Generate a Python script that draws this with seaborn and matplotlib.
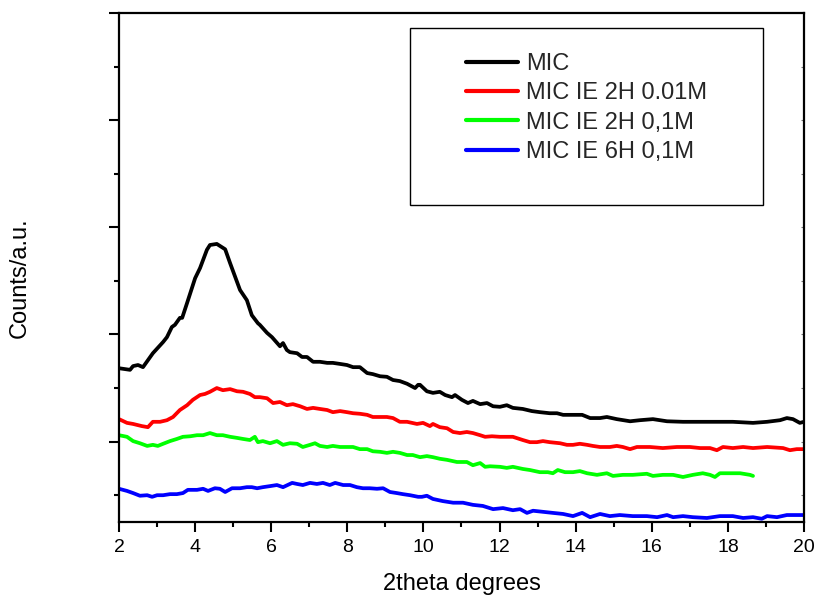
import numpy as np
import pandas as pd
import matplotlib
matplotlib.use("Agg")
import matplotlib.pyplot as plt
from matplotlib.patches import Rectangle
from matplotlib.ticker import MultipleLocator, FixedLocator
import seaborn as sns

# XRD patterns (2theta in degrees, intensity in counts, curves stacked)
mic_x = [2.00, 2.29, 2.37, 2.50, 2.63, 2.76, 2.89, 3.16, 3.26, 3.39, 3.47, 3.60, 3.66, 3.79,
         4.00, 4.13, 4.31, 4.39, 4.57, 4.79, 4.92, 5.18, 5.36, 5.49, 5.65, 5.70, 5.89, 6.02,
         6.23, 6.31, 6.41, 6.49, 6.68, 6.81, 6.94, 7.10, 7.28, 7.47, 7.62, 7.81, 7.99, 8.15,
         8.33, 8.52, 8.67, 8.86, 9.04, 9.20, 9.38, 9.57, 9.78, 9.86, 9.91, 10.09, 10.25, 10.43,
         10.57, 10.75, 10.83, 11.01, 11.17, 11.30, 11.49, 11.67, 11.83, 12.01, 12.19, 12.35,
         12.61, 12.85, 13.06, 13.32, 13.51, 13.67, 13.93, 14.17, 14.38, 14.64, 14.82, 15.08,
         15.43, 15.69, 16.03, 16.40, 16.82, 17.27, 17.71, 18.13, 18.66, 19.03, 19.37, 19.55,
         19.71, 19.89, 20.00]
mic_y = [2870, 2840, 2910, 2930, 2890, 3020, 3150, 3360, 3450, 3640, 3680, 3810, 3810, 4090,
         4550, 4740, 5080, 5170, 5190, 5090, 4830, 4330, 4140, 3860, 3710, 3680, 3530, 3450,
         3280, 3340, 3210, 3170, 3150, 3080, 3080, 2990, 2990, 2970, 2970, 2950, 2930, 2890,
         2890, 2780, 2760, 2720, 2710, 2650, 2630, 2580, 2500, 2560, 2560, 2440, 2410, 2430,
         2370, 2330, 2370, 2280, 2220, 2260, 2200, 2220, 2160, 2150, 2180, 2130,
         2110, 2070, 2050, 2030, 2030, 2000, 2000, 2000, 1940, 1940, 1960, 1920,
         1880, 1900, 1920, 1880, 1870, 1870, 1870, 1870, 1850, 1870, 1900, 1940,
         1920, 1850, 1870]

ie2h_001_x = [2.00, 2.21, 2.37, 2.60, 2.76, 2.89, 3.08, 3.26, 3.42, 3.60, 3.79, 3.94, 4.13,
              4.26, 4.39, 4.57, 4.73, 4.92, 5.10, 5.26, 5.44, 5.57, 5.70, 5.89, 6.05, 6.23,
              6.41, 6.57, 6.76, 6.94, 7.10, 7.28, 7.47, 7.62, 7.81, 7.99, 8.15, 8.33, 8.52,
              8.67, 8.86, 9.04, 9.20, 9.38, 9.57, 9.83, 9.99, 10.17, 10.25, 10.43, 10.62,
              10.78, 10.96, 11.14, 11.30, 11.49, 11.62, 11.80, 12.01, 12.19, 12.35, 12.61,
              12.80, 12.98, 13.14, 13.32, 13.59, 13.77, 13.93, 14.11, 14.30, 14.45, 14.64,
              14.90, 15.08, 15.24, 15.43, 15.61, 15.95, 16.29, 16.66, 17.00, 17.27, 17.53,
              17.71, 17.87, 18.13, 18.40, 18.66, 19.03, 19.45, 19.63, 19.81, 20.00]
ie2h_001_y = [1920, 1850, 1830, 1790, 1770, 1870, 1870, 1900, 1960, 2090, 2180, 2280, 2370,
              2390, 2430, 2500, 2460, 2480, 2440, 2430, 2390, 2330, 2330, 2310, 2220, 2240,
              2180, 2200, 2160, 2110, 2130, 2110, 2090, 2050, 2070, 2050, 2030, 2020, 2000,
              1960, 1960, 1960, 1940, 1870, 1870, 1830, 1850, 1790, 1830, 1770, 1750,
              1680, 1660, 1680, 1660, 1620, 1590, 1600, 1590, 1590, 1590, 1530,
              1490, 1490, 1510, 1490, 1470, 1440, 1440, 1460, 1440, 1420, 1400,
              1400, 1420, 1400, 1360, 1400, 1400, 1380, 1400, 1400, 1380, 1380,
              1340, 1400, 1380, 1400, 1380, 1400, 1380, 1340, 1360, 1360]

ie2h_01_x = [2.00, 2.21, 2.37, 2.55, 2.74, 2.89, 3.02, 3.16, 3.34, 3.52, 3.68, 3.87, 4.05,
             4.21, 4.39, 4.57, 4.73, 4.92, 5.10, 5.26, 5.44, 5.57, 5.65, 5.78, 5.97, 6.15,
             6.31, 6.49, 6.68, 6.83, 7.02, 7.15, 7.28, 7.47, 7.62, 7.81, 7.99, 8.15, 8.33,
             8.52, 8.67, 8.86, 9.04, 9.20, 9.38, 9.57, 9.72, 9.91, 10.09, 10.25, 10.43, 10.62,
             10.88, 11.14, 11.30, 11.49, 11.62, 11.75, 12.01, 12.19, 12.35, 12.61, 12.80,
             13.06, 13.27, 13.40, 13.53, 13.72, 13.93, 14.11, 14.30, 14.56, 14.82, 14.98,
             15.24, 15.50, 15.87, 16.03, 16.29, 16.56, 16.82, 17.08, 17.34, 17.53, 17.66,
             17.79, 18.05, 18.32, 18.58, 18.66]
ie2h_01_y = [1620, 1590, 1510, 1470, 1420, 1440, 1420, 1460, 1510, 1550, 1590, 1600, 1620,
             1620, 1660, 1620, 1620, 1590, 1570, 1550, 1530, 1590, 1490, 1510, 1470, 1510,
             1440, 1470, 1460, 1400, 1440, 1470, 1420, 1400, 1420, 1400, 1400, 1400, 1360,
             1360, 1320, 1310, 1290, 1310, 1290, 1250, 1250, 1210, 1230, 1210, 1180, 1160,
             1120, 1120, 1060, 1100, 1030, 1040, 1030, 1010, 1030, 990, 970,
             930, 930, 910, 970, 930, 930, 950, 910, 880, 910, 860,
             880, 880, 900, 860, 880, 880, 840, 880, 910, 880, 840,
             910, 910, 910, 880, 860]

ie6h_01_x = [2.00, 2.21, 2.37, 2.55, 2.74, 2.87, 3.00, 3.16, 3.34, 3.52, 3.68, 3.81, 4.05,
             4.21, 4.34, 4.52, 4.65, 4.79, 4.97, 5.18, 5.36, 5.49, 5.63, 5.78, 5.97, 6.15,
             6.31, 6.55, 6.68, 6.83, 7.02, 7.20, 7.36, 7.54, 7.68, 7.89, 8.07, 8.25, 8.41,
             8.59, 8.78, 8.94, 9.12, 9.30, 9.46, 9.65, 9.86, 9.96, 10.09, 10.25, 10.51, 10.78,
             11.04, 11.30, 11.56, 11.83, 12.09, 12.35, 12.54, 12.72, 12.88, 13.14, 13.40,
             13.67, 13.93, 14.17, 14.38, 14.64, 14.90, 15.16, 15.50, 15.87, 16.14, 16.40,
             16.56, 16.82, 17.08, 17.45, 17.79, 18.13, 18.40, 18.66, 18.89, 19.03, 19.29,
             19.55, 19.81, 20.00]
ie6h_01_y = [620, 580, 540, 490, 500, 470, 500, 500, 520, 520, 540, 600, 600,
             620, 580, 630, 620, 560, 630, 630, 650, 650, 630, 650, 670, 690,
             650, 730, 710, 690, 730, 710, 730, 690, 730, 690, 690, 650, 630,
             630, 620, 630, 560, 540, 520, 500, 470, 470, 490, 430, 390, 360,
             360, 320, 300, 240, 260, 220, 240, 170, 210, 190, 170,
             150, 110, 170, 90, 150, 110, 130, 110, 110, 90, 130,
             90, 110, 90, 75, 110, 110, 75, 90, 60, 110, 90,
             130, 130, 130]

labels = ["MIC", "MIC IE 2H 0.01M", "MIC IE 2H 0,1M", "MIC IE 6H 0,1M"]
colors = ["#000000", "#ff0000", "#00ff00", "#0000ff"]
series = [(mic_x, mic_y), (ie2h_001_x, ie2h_001_y), (ie2h_01_x, ie2h_01_y), (ie6h_01_x, ie6h_01_y)]

sns.set_theme(style="ticks")
plt.rcParams["font.family"] = ["Liberation Sans", "DejaVu Sans"]

fig = plt.figure(figsize=(8.17, 5.97), dpi=100)
ax = fig.add_axes([119 / 817, 75 / 597, 685 / 817, 509 / 597])

for (xs, ys), lab, col in zip(series, labels, colors):
    df = pd.DataFrame({"two_theta": xs, "counts": ys})
    sns.lineplot(data=df, x="two_theta", y="counts", color=col, label=lab,
                 linewidth=2.7, sort=False, ax=ax)

ax.set_xlim(2, 20)
ax.set_ylim(0, 9500)
ax.xaxis.set_major_locator(MultipleLocator(2))
ax.xaxis.set_minor_locator(MultipleLocator(1))
ax.yaxis.set_major_locator(FixedLocator([1500, 3500, 5500, 7500, 9500]))
ax.yaxis.set_minor_locator(FixedLocator([500, 2500, 4500, 6500, 8500]))
ax.set_yticklabels([])

for s in ax.spines.values():
    s.set_visible(True)
    s.set_linewidth(1.6)
    s.set_color("black")

ax.tick_params(axis="both", which="major", direction="out", length=7, width=1.5,
               color="black", labelsize=14, labelcolor="black", pad=5)
ax.tick_params(axis="both", which="minor", direction="out", length=3.5, width=1.5,
               color="black")

# faint short inner ticks along the right spine
for y in [500, 1500, 2500, 3500, 4500, 5500, 6500, 7500, 8500]:
    ax.plot([1.0, 0.996], [y, y], transform=ax.get_yaxis_transform(),
            color="#777777", linewidth=0.8, solid_capstyle="butt", clip_on=False)

ax.set_xlabel("2theta degrees", fontsize=17, color="black", va="center")
ax.xaxis.set_label_coords(0.5, (522 - 584) / 509)
ax.set_ylabel("Counts/a.u.", fontsize=17, color="black", va="center")
ax.yaxis.set_label_coords((20 - 119) / 685, (522 - 278) / 509)

# legend frame drawn as a separate box, entries placed inside its upper part
frame = Rectangle((0.4248, 0.6228), 0.5153, 0.3477, transform=ax.transAxes,
                  facecolor="white", edgecolor="black", linewidth=1.0, zorder=5)
ax.add_patch(frame)
handles, _ = ax.get_legend_handles_labels()
leg = ax.legend(handles[:4], labels, loc="upper left",
                bbox_to_anchor=((466 - 119) / 685, (522 - 53) / 509),
                frameon=False, fontsize=17, handlelength=2.2, handletextpad=0.35,
                labelspacing=0.31, borderpad=0, borderaxespad=0)
for line in leg.get_lines():
    line.set_linewidth(3)
leg.set_zorder(6)

fig.savefig("out.png", dpi=100, facecolor="white")
